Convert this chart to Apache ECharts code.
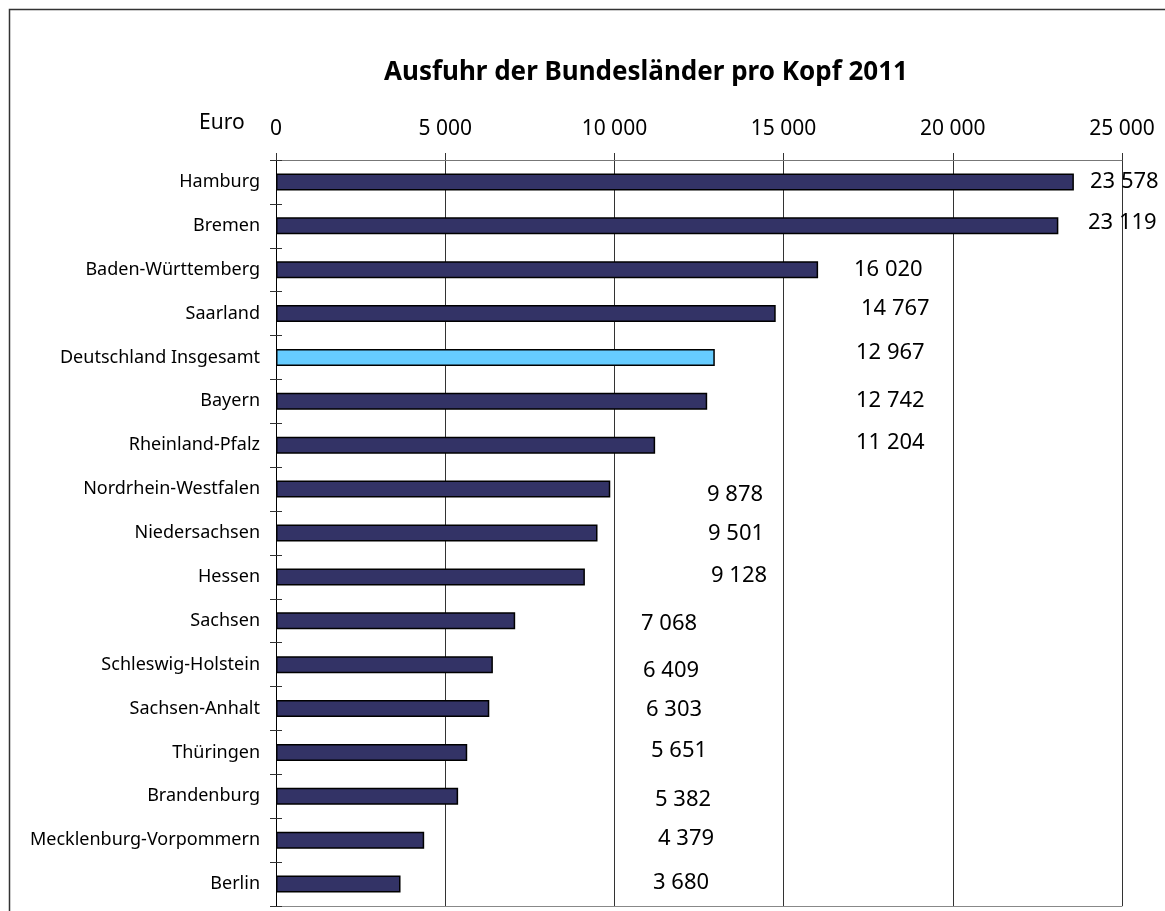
<!DOCTYPE html>
<html>
<head>
<meta charset="utf-8">
<script src="https://cdn.jsdelivr.net/npm/echarts@6/dist/echarts.min.js"></script>
<style>
    html, body {margin: 0; padding: 0; background: #fff;}
    #chart {width: 1165px; height: 911px;}
</style>
</head>
<body>
<div id="chart"></div>
<script>
// Ausfuhr je Einwohner 2011, Euro
var states = [
    'Hamburg', 'Bremen', 'Baden-Württemberg', 'Saarland', 'Deutschland Insgesamt',
    'Bayern', 'Rheinland-Pfalz', 'Nordrhein-Westfalen', 'Niedersachsen', 'Hessen',
    'Sachsen', 'Schleswig-Holstein', 'Sachsen-Anhalt', 'Thüringen', 'Brandenburg',
    'Mecklenburg-Vorpommern', 'Berlin'
];
var exportsPerHead = [
    23578, 23119, 16020, 14767, 12967,
    12742, 11204, 9878, 9501, 9128,
    7068, 6409, 6303, 5651, 5382,
    4379, 3680
];
var tickValues = [0, 5000, 10000, 15000, 20000, 25000];
var tickLabels = ['0', '5 000', '10 000', '15 000', '20 000', '25 000'];
var totalName = 'Deutschland Insgesamt';

// where the value labels sit (px from the axis, vertical nudge), like in the original
var labelNudge = [
    [814, 0], [812, -3], [578, 0], [585, -5], [580, -5],
    [580, -1], [580, -3], [431, 6], [432, 1], [435, -1],
    [365, 3], [367, 6], [370, 1], [375, -2], [379, 3],
    [382, -1], [377, -1]
];

var font = 'Noto Sans';

function fmt(v) {
    return String(v).replace(/\B(?=(\d{3})+(?!\d))/g, ' ');
}

var barData = exportsPerHead.map(function (v, i) {
    return {
        value: v,
        itemStyle: {color: states[i] === totalName ? '#66ccff' : '#333366'},
        label: {offset: labelNudge[i]}
    };
});

var option = {
    animation: false,
    textStyle: {fontFamily: font},
    title: {
        text: 'Ausfuhr der Bundesländer pro Kopf 2011',
        left: 379,
        top: 55,
        textStyle: {fontFamily: font, fontSize: 26, fontWeight: 'bold', color: '#000'}
    },
    graphic: [
        {
            type: 'rect',
            shape: {x: 9.5, y: 9.5, width: 1200, height: 1000},
            style: {fill: 'none', stroke: '#333', lineWidth: 1.5}
        },
        {
            type: 'text',
            left: 199,
            top: 113,
            style: {text: 'Euro', fontFamily: font, fontSize: 21, fill: '#000'}
        }
    ],
    grid: {left: 276, top: 160, right: 43, bottom: 5},
    xAxis: [
        {
            type: 'value',
            position: 'top',
            min: 0,
            max: 25000,
            interval: 5000,
            axisLine: {show: true, lineStyle: {color: '#777', width: 1}},
            axisTick: {show: true, length: 7, lineStyle: {color: '#333'}},
            axisLabel: {
                margin: 20,
                fontSize: 21,
                color: '#000',
                formatter: function (v) {
                    return tickLabels[tickValues.indexOf(v)];
                }
            },
            splitLine: {show: true, lineStyle: {color: '#333', width: 1}}
        },
        {
            type: 'value',
            position: 'bottom',
            min: 0,
            max: 25000,
            interval: 5000,
            axisLine: {show: true, lineStyle: {color: '#888'}},
            axisTick: {show: false},
            axisLabel: {show: false},
            splitLine: {show: false}
        }
    ],
    yAxis: [
        {
            type: 'category',
            data: states,
            inverse: true,
            axisLine: {show: true, lineStyle: {color: '#000', width: 1}},
            axisTick: {show: true, length: 6, lineStyle: {color: '#333'}},
            axisLabel: {margin: 16, fontSize: 18, color: '#000'}
        },
        {
            type: 'category',
            data: states,
            inverse: true,
            position: 'left',
            axisLine: {show: false},
            axisTick: {show: true, inside: true, length: 6, lineStyle: {color: '#333'}},
            axisLabel: {show: false}
        }
    ],
    series: [{
        type: 'bar',
        data: barData,
        barWidth: 17,
        itemStyle: {borderColor: '#000', borderWidth: 1.5},
        label: {
            show: true,
            position: 'insideLeft',
            distance: 0,
            color: '#000',
            fontFamily: font,
            fontSize: 22,
            formatter: function (p) {
                return fmt(p.value);
            }
        }
    }]
};

var chart = echarts.init(document.getElementById('chart'));
chart.setOption(option);
</script>
</body>
</html>
